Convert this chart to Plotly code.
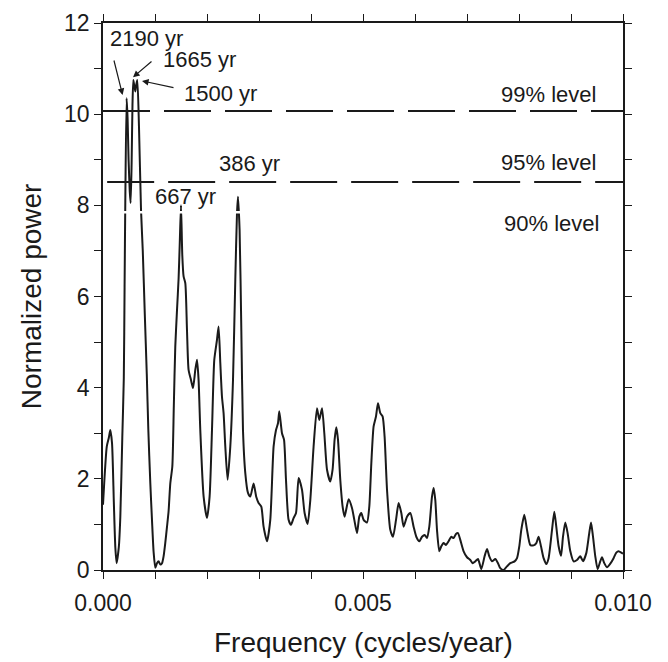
import plotly.graph_objects as go

# Frequency in milli-cycles/year (x 1e-3 cycles/year), normalized power
freq_mcy = [0.000, 0.073, 0.112, 0.140, 0.173, 0.208, 0.237, 0.262, 0.304, 0.333,
            0.371, 0.400, 0.415, 0.429, 0.454, 0.473, 0.492, 0.515, 0.531, 0.550,
            0.567, 0.583, 0.602, 0.621, 0.640, 0.660, 0.692, 0.731, 0.765, 0.804,
            0.842, 0.871, 0.910, 0.942, 0.973, 1.006, 1.038, 1.069, 1.102, 1.135,
            1.165, 1.198, 1.231, 1.262, 1.294, 1.333, 1.362, 1.390, 1.423, 1.454,
            1.477, 1.500, 1.525, 1.550, 1.583, 1.615, 1.646, 1.692, 1.731, 1.775,
            1.808, 1.838, 1.871, 1.935, 2.000, 2.050, 2.096, 2.140, 2.192, 2.223,
            2.256, 2.288, 2.319, 2.352, 2.396, 2.448, 2.500, 2.544, 2.577, 2.596,
            2.627, 2.660, 2.692, 2.737, 2.788, 2.833, 2.896, 2.948, 2.992, 3.044,
            3.088, 3.154, 3.217, 3.281, 3.327, 3.365, 3.390, 3.442, 3.481, 3.519,
            3.569, 3.615, 3.665, 3.712, 3.762, 3.827, 3.877, 3.935, 3.987, 4.050,
            4.115, 4.160, 4.212, 4.256, 4.308, 4.371, 4.415, 4.454, 4.487, 4.519,
            4.563, 4.608, 4.646, 4.723, 4.788, 4.833, 4.885, 4.929, 4.967, 5.012,
            5.077, 5.121, 5.160, 5.204, 5.250, 5.288, 5.333, 5.377, 5.415, 5.462,
            5.525, 5.577, 5.635, 5.685, 5.737, 5.781, 5.846, 5.910, 5.973, 6.025,
            6.083, 6.135, 6.185, 6.231, 6.275, 6.327, 6.358, 6.390, 6.423, 6.467,
            6.506, 6.550, 6.596, 6.646, 6.698, 6.742, 6.788, 6.827, 6.871, 6.935,
            7.000, 7.063, 7.108, 7.160, 7.212, 7.275, 7.338, 7.385, 7.429, 7.481,
            7.544, 7.596, 7.640, 7.704, 7.769, 7.833, 7.915, 7.962, 8.006, 8.044,
            8.102, 8.154, 8.217, 8.281, 8.333, 8.377, 8.423, 8.473, 8.525, 8.569,
            8.635, 8.679, 8.717, 8.762, 8.808, 8.846, 8.890, 8.935, 8.987, 9.050,
            9.115, 9.179, 9.231, 9.294, 9.346, 9.385, 9.423, 9.467, 9.512, 9.563,
            9.596, 9.640, 9.692, 9.756, 9.819, 9.871, 9.915, 9.981, 10.000]

power = [1.43, 2.71, 2.90, 3.07, 2.79, 1.50, 0.50, 0.15, 0.50, 1.17,
         2.90, 4.20, 6.20, 8.10, 10.35, 9.90, 9.00, 8.30, 8.05, 8.90,
         10.20, 10.75, 10.62, 10.50, 10.65, 10.75, 9.73, 7.90, 7.00, 5.60,
         4.30, 3.10, 1.90, 1.10, 0.40, 0.05, 0.15, 0.19, 0.12, 0.15,
         0.30, 0.60, 0.95, 1.30, 1.90, 2.27, 3.60, 4.90, 5.70, 6.40,
         7.20, 8.00, 6.90, 6.44, 6.29, 5.27, 4.39, 4.17, 3.99, 4.39,
         4.61, 4.17, 3.07, 1.61, 1.14, 1.61, 3.07, 4.61, 5.05, 5.34,
         4.54, 3.80, 3.44, 2.71, 1.98, 2.71, 4.17, 6.36, 7.83, 8.19,
         7.46, 5.27, 3.07, 2.12, 1.69, 1.61, 1.90, 1.60, 1.47, 1.39,
         0.95, 0.63, 1.10, 2.71, 3.07, 3.22, 3.48, 3.00, 2.86, 1.98,
         1.10, 0.99, 1.14, 1.25, 2.02, 1.76, 1.25, 1.01, 1.54, 2.71,
         3.55, 3.29, 3.55, 3.00, 2.20, 1.94, 2.20, 2.86, 3.13, 2.86,
         1.98, 1.39, 1.17, 1.55, 1.36, 1.10, 0.81, 1.17, 1.25, 1.10,
         1.04, 1.39, 2.34, 3.15, 3.37, 3.66, 3.44, 3.37, 2.93, 1.76,
         0.88, 0.73, 1.10, 1.47, 1.25, 0.95, 1.17, 1.25, 0.95, 0.73,
         0.63, 0.73, 0.77, 0.70, 0.95, 1.61, 1.80, 1.54, 0.88, 0.41,
         0.52, 0.59, 0.55, 0.63, 0.73, 0.70, 0.79, 0.81, 0.66, 0.41,
         0.28, 0.22, 0.15, 0.19, 0.24, 0.02, 0.30, 0.46, 0.30, 0.19,
         0.24, 0.15, 0.04, 0.00, 0.08, 0.15, 0.19, 0.26, 0.52, 0.88,
         1.21, 0.88, 0.55, 0.54, 0.59, 0.73, 0.52, 0.26, 0.13, 0.26,
         0.88, 1.28, 0.95, 0.52, 0.31, 0.73, 1.04, 0.81, 0.41, 0.19,
         0.22, 0.30, 0.19, 0.37, 0.77, 1.04, 0.73, 0.30, 0.02, 0.19,
         0.28, 0.15, 0.06, 0.14, 0.26, 0.38, 0.41, 0.37, 0.36]

freq = [v / 1000.0 for v in freq_mcy]

level_99 = 10.07
level_95 = 8.51
level_90 = 7.85

x_tickvals = [i / 1000.0 for i in range(11)]
x_ticktext = ["0.000", "", "", "", "", "0.005", "", "", "", "", "0.010"]
y_tickvals = list(range(13))
y_ticktext = [str(v) if v % 2 == 0 else "" for v in y_tickvals]

FONT = "Liberation Sans, Arial, Helvetica, sans-serif"
INK = "#1a1a1a"

fig = go.Figure()
fig.add_trace(go.Scatter(x=freq, y=power, mode="lines",
                         line=dict(color=INK, width=2, shape="spline", smoothing=0.6),
                         showlegend=False, hoverinfo="skip"))

shapes = [
    dict(type="line", xref="x", yref="y", x0=0.0, x1=0.0100, y0=level_99, y1=level_99,
         line=dict(color=INK, width=2, dash="47px,14px"), layer="above"),
    dict(type="line", xref="x", yref="y", x0=0.00008, x1=0.01004, y0=level_95, y1=level_95,
         line=dict(color=INK, width=2, dash="47px,14px"), layer="above"),
    dict(type="line", xref="x", yref="y", x0=0.0002, x1=0.0030, y0=level_90, y1=level_90,
         line=dict(color="white", width=2.5), layer="above"),
]

ann_font = dict(family=FONT, size=22, color=INK)
annotations = [
    dict(x=0.000833, y=11.66, text="2190 yr", showarrow=False, font=ann_font),
    dict(x=0.001852, y=11.19, text="1665 yr", showarrow=False, font=ann_font),
    dict(x=0.002265, y=10.46, text="1500 yr", showarrow=False, font=ann_font),
    dict(x=0.002813, y=8.91, text="386 yr", showarrow=False, font=ann_font),
    dict(x=0.001583, y=8.20, text="667 yr", showarrow=False, font=ann_font),
    dict(x=0.008563, y=10.44, text="99% level", showarrow=False, font=ann_font),
    dict(x=0.008563, y=8.93, text="95% level", showarrow=False, font=ann_font),
    dict(x=0.00862, y=7.61, text="90% level", showarrow=False, font=ann_font,
         bgcolor="white"),
    # arrows
    dict(x=0.000377, y=10.42, ax=-9, ay=-36, text="", showarrow=True, arrowhead=2,
         arrowsize=1.1, arrowwidth=1.2, arrowcolor=INK, standoff=0),
    dict(x=0.000577, y=10.81, ax=20, ay=-17, text="", showarrow=True, arrowhead=2,
         arrowsize=1.1, arrowwidth=1.2, arrowcolor=INK, standoff=0),
    dict(x=0.000750, y=10.73, ax=33, ay=7, text="", showarrow=True, arrowhead=2,
         arrowsize=1.1, arrowwidth=1.2, arrowcolor=INK, standoff=0),
    # axis titles
    dict(xref="paper", yref="paper", x=-0.136, y=0.501, text="Normalized power",
         textangle=-90, showarrow=False, xanchor="center", yanchor="middle",
         font=dict(family=FONT, size=28, color=INK)),
    dict(xref="paper", yref="paper", x=0.5, y=-0.133, text="Frequency (cycles/year)",
         showarrow=False, xanchor="center", yanchor="middle",
         font=dict(family=FONT, size=28, color=INK)),
]

axis_common = dict(showline=True, linecolor=INK, linewidth=1.5, mirror="ticks",
                   ticks="outside", ticklen=7, tickwidth=1.3, tickcolor=INK,
                   showgrid=False, zeroline=False,
                   tickfont=dict(family=FONT, size=23, color=INK))

# page body adds an 8px offset; margins compensate so the plot area lands in place
fig.update_layout(
    width=660, height=654,
    margin=dict(l=94.7, r=45.3, t=15, b=91.8, autoexpand=False),
    paper_bgcolor="white", plot_bgcolor="white",
    shapes=shapes, annotations=annotations,
    xaxis=dict(range=[0, 0.010], tickmode="array", tickvals=x_tickvals,
               ticktext=x_ticktext, ticklabelstandoff=5, **axis_common),
    yaxis=dict(range=[0, 12], tickmode="array", tickvals=y_tickvals,
               ticktext=y_ticktext, **axis_common),
)

fig.write_html("out.html")
